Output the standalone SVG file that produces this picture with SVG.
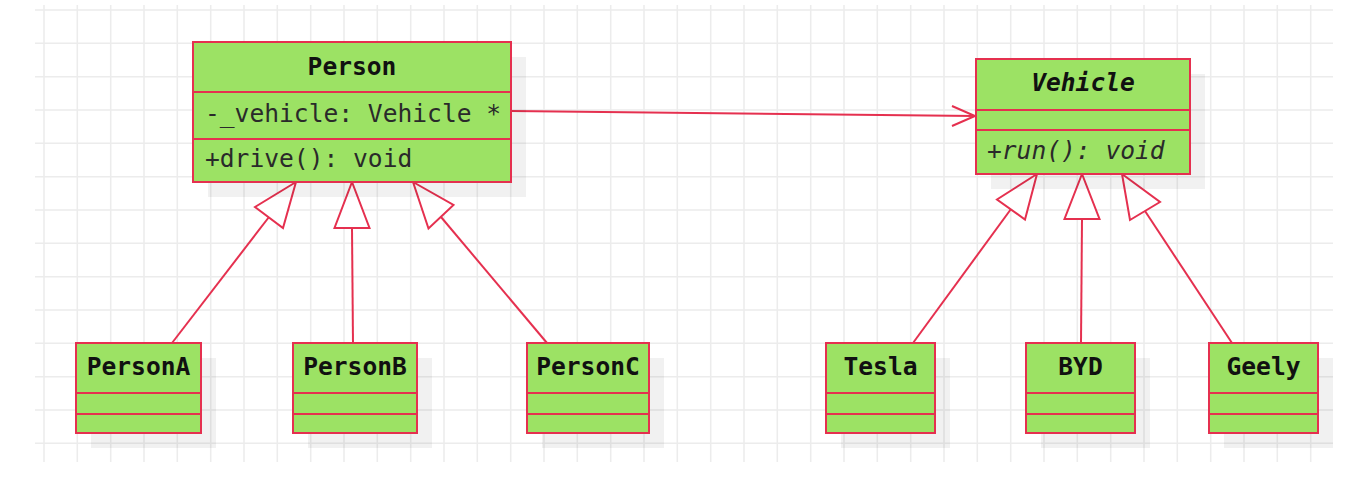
<svg xmlns="http://www.w3.org/2000/svg" width="1365" height="489" viewBox="0 0 1365 489">
<style>
.grid{stroke:#ececec;stroke-width:1.5;fill:none}
.sh{fill:#000;opacity:0.055}
.box{fill:#9ce264;stroke:#e5304f;stroke-width:2}
.div{stroke:#e5304f;stroke-width:2}
.edge{stroke:#e5304f;stroke-width:2;fill:none}
.tri{stroke:#e5304f;stroke-width:2;fill:#fff;stroke-linejoin:miter}
.name{font-family:"DejaVu Sans Mono","Liberation Mono",monospace;font-weight:bold;font-size:24.6px;fill:#111;text-anchor:middle}
.mem{font-family:"DejaVu Sans Mono","Liberation Mono",monospace;font-size:24.6px;fill:#2a2a2a}
.it{font-style:italic}
</style>
<rect width="1365" height="489" fill="#fff"/>
<path class="grid" d="M44 5V462M77.3 5V462M110.7 5V462M144 5V462M177.3 5V462M210.7 5V462M244 5V462M277.3 5V462M310.7 5V462M344 5V462M377.3 5V462M410.7 5V462M444 5V462M477.3 5V462M510.7 5V462M544 5V462M577.3 5V462M610.7 5V462M644 5V462M677.3 5V462M710.7 5V462M744 5V462M777.3 5V462M810.7 5V462M844 5V462M877.3 5V462M910.7 5V462M944 5V462M977.3 5V462M1010.7 5V462M1044 5V462M1077.3 5V462M1110.7 5V462M1144 5V462M1177.3 5V462M1210.7 5V462M1244 5V462M1277.3 5V462M1310.7 5V462M35 10H1333M35 43.3H1333M35 76.7H1333M35 110H1333M35 143.3H1333M35 176.7H1333M35 210H1333M35 243.3H1333M35 276.7H1333M35 310H1333M35 343.3H1333M35 376.7H1333M35 410H1333M35 443.3H1333"/>
<g id="connectors">
<path class="edge" d="M511 111L975 116M952 106L975 116L952 126"/>
<path class="edge" d="M269 217L172 343"/>
<path class="tri" d="M296 182L255 207L283 228Z"/>
<path class="edge" d="M352 228L353 343"/>
<path class="tri" d="M352 182L334.5 228L369.5 228Z"/>
<path class="edge" d="M441 217L547 343"/>
<path class="tri" d="M413 182L453.5 205L428.5 228.5Z"/>
<path class="edge" d="M1011 209L913 343"/>
<path class="tri" d="M1037 174L997 199.5L1025 219.5Z"/>
<path class="edge" d="M1082 219L1081 343"/>
<path class="tri" d="M1082 174L1064.5 219L1099.5 219Z"/>
<path class="edge" d="M1145 211L1232 343"/>
<path class="tri" d="M1122 174L1160 202L1130 220Z"/>
</g>
<g id="Person">
<rect class="sh" x="208" y="57" width="318" height="140"/>
<rect class="box" x="193" y="42" width="318" height="140"/>
<path class="div" d="M193 92H511M193 139H511"/>
<text class="name" x="352" y="75">Person</text>
<text class="mem" x="205" y="122">-_vehicle: Vehicle *</text>
<text class="mem" x="205" y="167">+drive(): void</text>
</g>
<g id="Vehicle">
<rect class="sh" x="991" y="74" width="214" height="115"/>
<rect class="box" x="976" y="59" width="214" height="115"/>
<path class="div" d="M976 110H1190M976 130H1190"/>
<text class="name it" x="1083" y="91">Vehicle</text>
<text class="mem it" x="987" y="159">+run(): void</text>
</g>
<g id="PersonA">
<rect class="sh" x="91" y="358" width="125" height="90"/>
<rect class="box" x="76" y="343" width="125" height="90"/>
<path class="div" d="M76 393H201M76 414H201"/>
<text class="name" x="138.5" y="375">PersonA</text>
</g>
<g id="PersonB">
<rect class="sh" x="308" y="358" width="124" height="90"/>
<rect class="box" x="293" y="343" width="124" height="90"/>
<path class="div" d="M293 393H417M293 414H417"/>
<text class="name" x="355" y="375">PersonB</text>
</g>
<g id="PersonC">
<rect class="sh" x="542" y="358" width="122" height="90"/>
<rect class="box" x="527" y="343" width="122" height="90"/>
<path class="div" d="M527 393H649M527 414H649"/>
<text class="name" x="588" y="375">PersonC</text>
</g>
<g id="Tesla">
<rect class="sh" x="841" y="358" width="109" height="90"/>
<rect class="box" x="826" y="343" width="109" height="90"/>
<path class="div" d="M826 393H935M826 414H935"/>
<text class="name" x="880.5" y="375">Tesla</text>
</g>
<g id="BYD">
<rect class="sh" x="1041" y="358" width="109" height="90"/>
<rect class="box" x="1026" y="343" width="109" height="90"/>
<path class="div" d="M1026 393H1135M1026 414H1135"/>
<text class="name" x="1080.5" y="375">BYD</text>
</g>
<g id="Geely">
<rect class="sh" x="1224" y="358" width="109" height="90"/>
<rect class="box" x="1209" y="343" width="109" height="90"/>
<path class="div" d="M1209 393H1318M1209 414H1318"/>
<text class="name" x="1263.5" y="375">Geely</text>
</g>
</svg>
